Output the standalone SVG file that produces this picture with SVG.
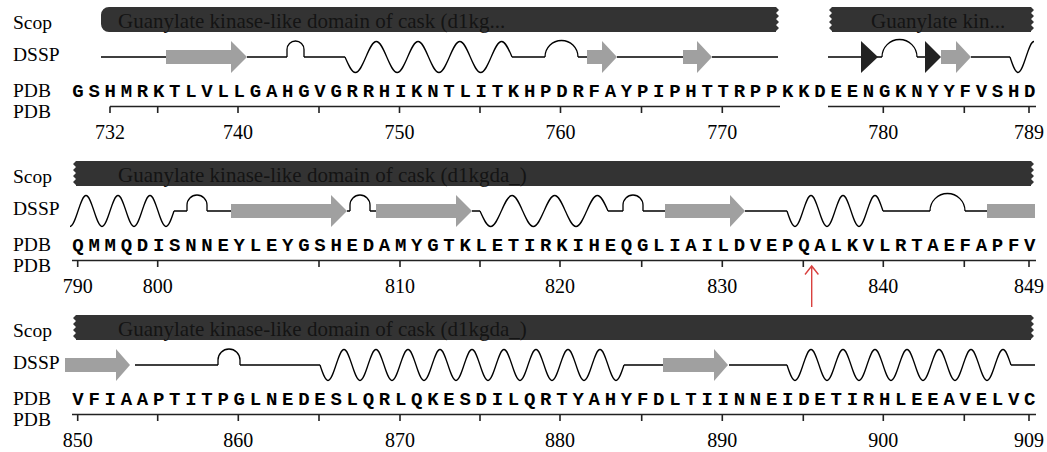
<svg xmlns="http://www.w3.org/2000/svg" width="1047" height="452" viewBox="0 0 1047 452">
<style>
.lbl{font-family:"Liberation Serif",serif;font-size:19.5px;fill:#000}
.num{font-family:"Liberation Serif",serif;font-size:20px;fill:#000;text-anchor:middle}
.bar{fill:#333}
.bt{font-family:"Liberation Serif",serif;font-size:21px;fill:#141414}
.seq{font-family:"Liberation Mono",monospace;font-weight:bold;font-size:19px;letter-spacing:4.73px;fill:#000}
.ln{stroke:#000;stroke-width:1.3;fill:none}
.ax{stroke:#222;stroke-width:1.6;fill:none}
.st{fill:#a0a0a0}
.tri{fill:#222}
</style>
<rect width="1047" height="452" fill="#fff"/>

<g id="row1">
  <g id="row1-labels">
    <text class="lbl" x="13" y="28.5">Scop</text>
    <text class="lbl" x="13" y="61">DSSP</text>
    <text class="lbl" x="13" y="97">PDB</text>
    <text class="lbl" x="13" y="118">PDB</text>
  </g>
  <g id="row1-scop">
    <path class="bar" d="M109,7 H776 l3,3 -3,3 3,3 -3,3 3,3 -3,3 3,3 -3,3 v1 H109 a8,8 0 0 1 -8,-8 v-9 a8,8 0 0 1 8,-8 z"/>
    <text class="bt" x="118" y="28">Guanylate kinase-like domain of cask (d1kg...</text>
    <path class="bar" d="M832,7 H1031 l3,3 -3,3 3,3 -3,3 3,3 -3,3 3,3 -3,3 v1 H832 v-1 l-3,-3 3,-3 -3,-3 3,-3 -3,-3 3,-3 -3,-3 3,-3 z"/>
    <text class="bt" x="871" y="28">Guanylate kin...</text>
  </g>
  <g id="row1-dssp">
    <path class="ln" d="M101,57 H166 M247,57 H287 M304,57 H345 M512,57 H545 M578,57 H587 M617,57 H683 M712,57 H778 M828,57 H861 M877,57 H882 M917,57 H925 M971,57 H1010"/>
    <path class="ln" d="M287,57 V49.5 A8.5,8.5 0 0 1 304,49.5 V57 M545,57 A16.5,16.5 0 0 1 578,57 M882,57 A17.5,17.5 0 0 1 917,57"/>
    <path class="ln" d="M345,57 c3.49,8.14 6.65,15.5 10.44,15.5 3.79,0 6.95,-7.36 10.44,-15.5 3.49,-8.14 6.65,-15.5 10.44,-15.5 3.79,0 6.95,7.36 10.44,15.5 3.49,8.14 6.65,15.5 10.44,15.5 3.79,0 6.95,-7.36 10.44,-15.5 3.49,-8.14 6.65,-15.5 10.44,-15.5 3.79,0 6.95,7.36 10.44,15.5 3.49,8.14 6.65,15.5 10.44,15.5 3.79,0 6.95,-7.36 10.44,-15.5 3.49,-8.14 6.65,-15.5 10.44,-15.5 3.79,0 6.95,7.36 10.44,15.5 3.49,8.14 6.65,15.5 10.44,15.5 3.79,0 6.95,-7.36 10.44,-15.5 3.49,-8.14 6.65,-15.5 10.44,-15.5 3.79,0 6.95,7.36 10.44,15.5"/>
    <path class="ln" d="M1010,57 c2.67,8.14 5.09,15.5 8,15.5 2.91,0 5.33,-7.36 8,-15.5 2.67,-8.14 5.09,-15.5 8,-15.5"/>
    <polygon class="st" points="166,50 231,50 231,41 247,57 231,73 231,64 166,64"/>
    <polygon class="st" points="587,50 602,50 602,41 617,57 602,73 602,64 587,64"/>
    <polygon class="st" points="683,50 697,50 697,41 712,57 697,73 697,64 683,64"/>
    <polygon class="st" points="941,50 956,50 956,41 971,57 956,73 956,64 941,64"/>
    <polygon class="tri" points="861,41 878,57 861,73"/>
    <polygon class="tri" points="925,41 941,57 925,73"/>
  </g>
  <text class="seq" x="72.3" y="97">GSHMRKTLVLLGAHGVGRRHIKNTLITKHPDRFAYPIPHTTRPPKKDEENGKNYYFVSHD</text>
  <g id="row1-axis">
    <path class="ax" d="M110,106.5 H780 M828,106.5 H1036 M110,106.5 V113 M157.7,106.5 V113 M238,106.5 V113 M319,106.5 V113 M399.5,106.5 V113 M480,106.5 V113 M560.5,106.5 V113 M641.5,106.5 V113 M722.3,106.5 V113 M883.3,106.5 V113 M964.3,106.5 V113 M1029,106.5 V113"/>
    <text class="num" x="110" y="138.5">732</text>
    <text class="num" x="238" y="138.5">740</text>
    <text class="num" x="399.5" y="138.5">750</text>
    <text class="num" x="560.5" y="138.5">760</text>
    <text class="num" x="722.3" y="138.5">770</text>
    <text class="num" x="883.3" y="138.5">780</text>
    <text class="num" x="1029" y="138.5">789</text>
  </g>
</g>

<g id="row2" transform="translate(0,154)">
  <g id="row2-labels">
    <text class="lbl" x="13" y="28.5">Scop</text>
    <text class="lbl" x="13" y="61">DSSP</text>
    <text class="lbl" x="13" y="97">PDB</text>
    <text class="lbl" x="13" y="118">PDB</text>
  </g>
  <g id="row2-scop">
    <path class="bar" d="M76,7 H1031 l3,3 -3,3 3,3 -3,3 3,3 -3,3 3,3 -3,3 v1 H76 v-1 l-3,-3 3,-3 -3,-3 3,-3 -3,-3 3,-3 -3,-3 3,-3 z"/>
    <text class="bt" x="118" y="28">Guanylate kinase-like domain of cask (d1kgda_)</text>
  </g>
  <g id="row2-dssp">
    <path class="ln" d="M174,57 H187 M207,57 H231 M347,57 H350 M370,57 H376 M472,57 H480 M608,57 H623 M643,57 H665 M745,57 H787 M883,57 H930 M965,57 H987"/>
    <path class="ln" d="M187,57 V51 A10,10 0 0 1 207,51 V57 M350,57 V51 A10,10 0 0 1 370,51 V57 M623,57 V51 A10,10 0 0 1 643,51 V57 M930,57 A17.5,17.5 0 0 1 965,57"/>
    <path class="ln" d="M70,72.5 c2.91,0 5.33,-7.36 8,-15.5 2.67,-8.14 5.09,-15.5 8,-15.5 2.91,0 5.33,7.36 8,15.5 2.67,8.14 5.09,15.5 8,15.5 2.91,0 5.33,-7.36 8,-15.5 2.67,-8.14 5.09,-15.5 8,-15.5 2.91,0 5.33,7.36 8,15.5 2.67,8.14 5.09,15.5 8,15.5 2.91,0 5.33,-7.36 8,-15.5 2.67,-8.14 5.09,-15.5 8,-15.5 2.91,0 5.33,7.36 8,15.5 2.67,8.14 5.09,15.5 8,15.5 2.91,0 5.33,-7.36 8,-15.5"/>
    <path class="ln" d="M480,57 c3.57,8.14 6.79,15.5 10.67,15.5 3.88,0 7.1,-7.36 10.67,-15.5 3.57,-8.14 6.79,-15.5 10.67,-15.5 3.88,0 7.1,7.36 10.67,15.5 3.57,8.14 6.79,15.5 10.67,15.5 3.88,0 7.1,-7.36 10.67,-15.5 3.57,-8.14 6.79,-15.5 10.67,-15.5 3.88,0 7.1,7.36 10.67,15.5 3.57,8.14 6.79,15.5 10.67,15.5 3.88,0 7.1,-7.36 10.67,-15.5 3.57,-8.14 6.79,-15.5 10.67,-15.5 3.88,0 7.1,7.36 10.67,15.5"/>
    <path class="ln" d="M787,57 c2.67,8.14 5.09,15.5 8,15.5 2.91,0 5.33,-7.36 8,-15.5 2.67,-8.14 5.09,-15.5 8,-15.5 2.91,0 5.33,7.36 8,15.5 2.67,8.14 5.09,15.5 8,15.5 2.91,0 5.33,-7.36 8,-15.5 2.67,-8.14 5.09,-15.5 8,-15.5 2.91,0 5.33,7.36 8,15.5 2.67,8.14 5.09,15.5 8,15.5 2.91,0 5.33,-7.36 8,-15.5 2.67,-8.14 5.09,-15.5 8,-15.5 2.91,0 5.33,7.36 8,15.5"/>
    <polygon class="st" points="231,50 331,50 331,41 347,57 331,73 331,64 231,64"/>
    <polygon class="st" points="376,50 456,50 456,41 472,57 456,73 456,64 376,64"/>
    <polygon class="st" points="665,50 730,50 730,41 745,57 730,73 730,64 665,64"/>
    <rect class="st" x="987" y="50" width="48" height="14"/>
  </g>
  <text class="seq" x="72.3" y="97">QMMQDISNNEYLEYGSHEDAMYGTKLETIRKIHEQGLIAILDVEPQALKVLRTAEFAPFV</text>
  <g id="row2-axis">
    <path class="ax" d="M72,106.5 H1036 M77.7,106.5 V113 M157.7,106.5 V113 M319,106.5 V113 M400,106.5 V113 M480,106.5 V113 M560,106.5 V113 M641.7,106.5 V113 M722.3,106.5 V113 M803.3,106.5 V113 M883.3,106.5 V113 M964.3,106.5 V113 M1029,106.5 V113"/>
    <text class="num" x="77.7" y="138.5">790</text>
    <text class="num" x="157.7" y="138.5">800</text>
    <text class="num" x="400" y="138.5">810</text>
    <text class="num" x="560" y="138.5">820</text>
    <text class="num" x="722.3" y="138.5">830</text>
    <text class="num" x="883.3" y="138.5">840</text>
    <text class="num" x="1029" y="138.5">849</text>
  </g>
</g>

<g id="row3" transform="translate(0,308)">
  <g id="row3-labels">
    <text class="lbl" x="13" y="28.5">Scop</text>
    <text class="lbl" x="13" y="61">DSSP</text>
    <text class="lbl" x="13" y="97">PDB</text>
    <text class="lbl" x="13" y="118">PDB</text>
  </g>
  <g id="row3-scop">
    <path class="bar" d="M76,7 H1031 l3,3 -3,3 3,3 -3,3 3,3 -3,3 3,3 -3,3 v1 H76 v-1 l-3,-3 3,-3 -3,-3 3,-3 -3,-3 3,-3 -3,-3 3,-3 z"/>
    <text class="bt" x="118" y="28">Guanylate kinase-like domain of cask (d1kgda_)</text>
  </g>
  <g id="row3-dssp">
    <path class="ln" d="M135,57 H218 M240,57 H320 M624,57 H663 M729,57 H787 M1011,57 H1035"/>
    <path class="ln" d="M218,57 V52 A11,11 0 0 1 240,52 V57"/>
    <path class="ln" d="M320,57 c2.67,8.14 5.09,15.5 8,15.5 2.91,0 5.33,-7.36 8,-15.5 2.67,-8.14 5.09,-15.5 8,-15.5 2.91,0 5.33,7.36 8,15.5 2.67,8.14 5.09,15.5 8,15.5 2.91,0 5.33,-7.36 8,-15.5 2.67,-8.14 5.09,-15.5 8,-15.5 2.91,0 5.33,7.36 8,15.5 2.67,8.14 5.09,15.5 8,15.5 2.91,0 5.33,-7.36 8,-15.5 2.67,-8.14 5.09,-15.5 8,-15.5 2.91,0 5.33,7.36 8,15.5 2.67,8.14 5.09,15.5 8,15.5 2.91,0 5.33,-7.36 8,-15.5 2.67,-8.14 5.09,-15.5 8,-15.5 2.91,0 5.33,7.36 8,15.5 2.67,8.14 5.09,15.5 8,15.5 2.91,0 5.33,-7.36 8,-15.5 2.67,-8.14 5.09,-15.5 8,-15.5 2.91,0 5.33,7.36 8,15.5 2.67,8.14 5.09,15.5 8,15.5 2.91,0 5.33,-7.36 8,-15.5 2.67,-8.14 5.09,-15.5 8,-15.5 2.91,0 5.33,7.36 8,15.5 2.67,8.14 5.09,15.5 8,15.5 2.91,0 5.33,-7.36 8,-15.5 2.67,-8.14 5.09,-15.5 8,-15.5 2.91,0 5.33,7.36 8,15.5 2.67,8.14 5.09,15.5 8,15.5 2.91,0 5.33,-7.36 8,-15.5 2.67,-8.14 5.09,-15.5 8,-15.5 2.91,0 5.33,7.36 8,15.5 2.67,8.14 5.09,15.5 8,15.5 2.91,0 5.33,-7.36 8,-15.5 2.67,-8.14 5.09,-15.5 8,-15.5 2.91,0 5.33,7.36 8,15.5 2.67,8.14 5.09,15.5 8,15.5 2.91,0 5.33,-7.36 8,-15.5"/>
    <path class="ln" d="M787,57 c2.67,8.14 5.09,15.5 8,15.5 2.91,0 5.33,-7.36 8,-15.5 2.67,-8.14 5.09,-15.5 8,-15.5 2.91,0 5.33,7.36 8,15.5 2.67,8.14 5.09,15.5 8,15.5 2.91,0 5.33,-7.36 8,-15.5 2.67,-8.14 5.09,-15.5 8,-15.5 2.91,0 5.33,7.36 8,15.5 2.67,8.14 5.09,15.5 8,15.5 2.91,0 5.33,-7.36 8,-15.5 2.67,-8.14 5.09,-15.5 8,-15.5 2.91,0 5.33,7.36 8,15.5 2.67,8.14 5.09,15.5 8,15.5 2.91,0 5.33,-7.36 8,-15.5 2.67,-8.14 5.09,-15.5 8,-15.5 2.91,0 5.33,7.36 8,15.5 2.67,8.14 5.09,15.5 8,15.5 2.91,0 5.33,-7.36 8,-15.5 2.67,-8.14 5.09,-15.5 8,-15.5 2.91,0 5.33,7.36 8,15.5 2.67,8.14 5.09,15.5 8,15.5 2.91,0 5.33,-7.36 8,-15.5 2.67,-8.14 5.09,-15.5 8,-15.5 2.91,0 5.33,7.36 8,15.5 2.67,8.14 5.09,15.5 8,15.5 2.91,0 5.33,-7.36 8,-15.5 2.67,-8.14 5.09,-15.5 8,-15.5 2.91,0 5.33,7.36 8,15.5"/>
    <polygon class="st" points="65,50 116,50 116,41 130,57 116,73 116,64 65,64"/>
    <polygon class="st" points="663,50 714,50 714,41 728,57 714,73 714,64 663,64"/>
  </g>
  <text class="seq" x="72.3" y="97">VFIAAPTITPGLNEDESLQRLQKESDILQRTYAHYFDLTIINNEIDETIRHLEEAVELVC</text>
  <g id="row3-axis">
    <path class="ax" d="M72,106.5 H1036 M77.7,106.5 V113 M157.7,106.5 V113 M238.3,106.5 V113 M319,106.5 V113 M400,106.5 V113 M480,106.5 V113 M560,106.5 V113 M641.7,106.5 V113 M722.3,106.5 V113 M803.3,106.5 V113 M883.3,106.5 V113 M964.3,106.5 V113 M1029,106.5 V113"/>
    <text class="num" x="77.7" y="138.5">850</text>
    <text class="num" x="238.3" y="138.5">860</text>
    <text class="num" x="400" y="138.5">870</text>
    <text class="num" x="560" y="138.5">880</text>
    <text class="num" x="722.3" y="138.5">890</text>
    <text class="num" x="883.3" y="138.5">900</text>
    <text class="num" x="1029" y="138.5">909</text>
  </g>
</g>

<g id="marker">
  <path d="M811.7,307 V266 M805,274.5 L811.7,266 L818.4,274.5" fill="none" stroke="#d9413f" stroke-width="1.4"/>
</g>
</svg>
